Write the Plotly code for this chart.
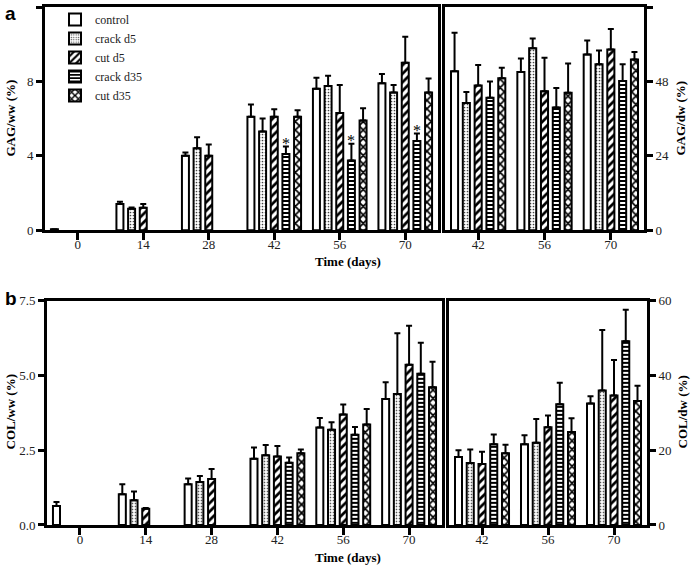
"""GAG et COL (poids humide / poids sec) par groupe et par jour, avec Plotly."""
import plotly.graph_objects as go

# ----------------------------------------------------------------------
# Données (moyenne, écart-type vers le haut)
# ----------------------------------------------------------------------
GROUPES = ["control", "crack d5", "cut d5", "crack d35", "cut d35"]
JOURS_WW = ["0", "14", "28", "42", "56", "70"]
JOURS_DW = ["42", "56", "70"]

GAG_WW = [
    [0.05, 1.4, 4.0, 6.1, 7.6, 7.9],
    [None, 1.15, 4.4, 5.3, 7.75, 7.4],
    [None, 1.2, 4.0, 6.1, 6.3, 9.0],
    [None, None, None, 4.1, 3.75, 4.8],
    [None, None, None, 6.1, 5.9, 7.4],
]
GAG_WW_ERR = [
    [None, 0.12, 0.18, 0.65, 0.6, 0.5],
    [None, 0.07, 0.6, 0.7, 0.55, 0.4],
    [None, 0.2, 0.6, 0.4, 1.5, 1.4],
    [None, None, None, 0.4, 0.9, 0.4],
    [None, None, None, 0.35, 0.65, 0.75],
]
GAG_DW = [
    [51.3, 51.0, 56.7],
    [41.0, 58.7, 53.5],
    [46.7, 44.8, 58.3],
    [42.7, 39.6, 48.1],
    [49.0, 44.3, 55.1],
]
GAG_DW_ERR = [
    [12.4, 4.4, 4.5],
    [3.6, 3.1, 4.5],
    [6.6, 10.8, 6.6],
    [5.3, 6.3, 5.4],
    [3.4, 9.5, 2.4],
]
COL_WW = [
    [0.64, 1.03, 1.36, 2.22, 3.26, 4.22],
    [None, 0.83, 1.44, 2.33, 3.19, 4.38],
    [None, 0.54, 1.54, 2.29, 3.7, 5.36],
    [None, None, None, 2.08, 3.02, 5.06],
    [None, None, None, 2.4, 3.36, 4.61],
]
COL_WW_ERR = [
    [0.13, 0.33, 0.2, 0.37, 0.32, 0.56],
    [None, 0.29, 0.2, 0.35, 0.25, 2.04],
    [None, 0.03, 0.33, 0.35, 0.33, 1.31],
    [None, None, None, 0.18, 0.26, 1.04],
    [None, None, None, 0.13, 0.52, 0.85],
]
COL_DW = [
    [18.2, 21.6, 32.5],
    [16.6, 22.0, 36.0],
    [16.3, 26.2, 34.7],
    [21.6, 32.3, 49.2],
    [19.2, 24.9, 33.2],
]
COL_DW_ERR = [
    [1.8, 2.4, 2.0],
    [3.6, 6.4, 16.2],
    [3.3, 3.1, 9.5],
    [2.6, 5.8, 8.4],
    [2.3, 3.7, 4.1],
]

# différences significatives (crack d35, GAG/ww)
ETOILES_JOURS = ["42", "56", "70"]
ETOILES_GROUPE = 3

# ----------------------------------------------------------------------
# Style
# ----------------------------------------------------------------------
SERIF = "Liberation Serif"
NOIR = "black"
TEXTE = "#222"
BARGAP = 0.11
BARGROUPGAP = 0.4

MOTIFS = [
    dict(shape="", bgcolor="white"),
    dict(shape=".", fgcolor="#444", bgcolor="white", size=3, solidity=0.25),
    dict(shape="/", fgcolor=NOIR, bgcolor="white", size=6, solidity=0.45),
    dict(shape="-", fgcolor=NOIR, bgcolor="white", size=4, solidity=0.5),
    dict(shape="x", fgcolor=NOIR, bgcolor="white", size=6, solidity=0.5),
]

fig = go.Figure()


def _ajouter_barres(jours, valeurs, erreurs, xa, ya, legende=False):
    for i, nom in enumerate(GROUPES):
        err = erreurs[i]
        fig.add_trace(go.Bar(
            x=jours, y=valeurs[i], name=nom,
            xaxis=xa, yaxis=ya,
            legendgroup=nom, showlegend=legende,
            marker=dict(color="white", pattern=MOTIFS[i],
                        line=dict(color=NOIR, width=2)),
            error_y=dict(type="data", array=err, arrayminus=[0] * len(err),
                         symmetric=False, thickness=2, width=3, color=NOIR),
        ))


_ajouter_barres(JOURS_WW, GAG_WW, GAG_WW_ERR, "x", "y", legende=True)
_ajouter_barres(JOURS_DW, GAG_DW, GAG_DW_ERR, "x2", "y2")
_ajouter_barres(JOURS_WW, COL_WW, COL_WW_ERR, "x3", "y3")
_ajouter_barres(JOURS_DW, COL_DW, COL_DW_ERR, "x4", "y4")

# étoiles au-dessus des barres crack d35
slot = (1 - BARGAP) / len(GROUPES)
for j in ETOILES_JOURS:
    k = JOURS_WW.index(j)
    haut = GAG_WW[ETOILES_GROUPE][k] + GAG_WW_ERR[ETOILES_GROUPE][k]
    fig.add_annotation(
        x=k + (ETOILES_GROUPE - 2) * slot, y=haut, xref="x", yref="y",
        text="*", showarrow=False, yanchor="middle", yshift=3,
        font=dict(family=SERIF, size=16, color=NOIR),
    )

# ----------------------------------------------------------------------
# Axes (domaines en pixels -> papier)
# ----------------------------------------------------------------------
W, H = 691, 566
ML, MR, MT, MB = 45, 44, 5, 41
PW, PH = W - ML - MR, H - MT - MB


def px_x(p):
    return (p - ML) / PW


def px_y(p):
    return (H - MB - p) / PH


axe = dict(
    showline=True, linewidth=3, linecolor=NOIR, mirror=True,
    ticks="outside", ticklen=6, tickwidth=3, tickcolor=NOIR,
    showgrid=False, zeroline=False, automargin=False,
    tickfont=dict(family=SERIF, size=13, color=TEXTE),
)
axe_x = dict(axe, type="category", ticklen=7, ticklabelstandoff=-7)

fig.update_layout(
    xaxis=dict(axe_x, domain=[px_x(45), px_x(438)], anchor="y",
               range=[-0.5, 5.5], categoryarray=JOURS_WW),
    yaxis=dict(axe, domain=[px_y(229), px_y(5)], anchor="x",
               range=[0, 12], tickvals=[0, 4, 8, 12]),
    xaxis2=dict(axe_x, domain=[px_x(445), px_x(644)], anchor="y2",
                range=[-0.5, 2.5], categoryarray=JOURS_DW),
    yaxis2=dict(axe, domain=[px_y(229), px_y(5)], anchor="x2", side="right",
                range=[0, 72], tickvals=[0, 24, 48, 72]),
    xaxis3=dict(axe_x, domain=[px_x(47), px_x(442)], anchor="y3",
                range=[-0.5, 5.5], categoryarray=JOURS_WW),
    yaxis3=dict(axe, domain=[px_y(525), px_y(300)], anchor="x3",
                range=[0, 7.5], tickvals=[0, 2.5, 5, 7.5], tickformat=".1f"),
    xaxis4=dict(axe_x, domain=[px_x(449), px_x(647)], anchor="y4",
                range=[-0.5, 2.5], categoryarray=JOURS_DW),
    yaxis4=dict(axe, domain=[px_y(525), px_y(300)], anchor="x4", side="right",
                range=[0, 60], tickvals=[0, 20, 40, 60]),
)

# titres d'axes et lettres de panneaux
LETTRE = dict(family="Liberation Sans", size=19, color=NOIR)
textes = [
    ("<b>a</b>", 3, 12, 0, "left", LETTRE),
    ("<b>b</b>", 3, 298, 0, "left", LETTRE),
    ("<b>GAG/ww (%)</b>", 11, 117, -90, "center", None),
    ("<b>GAG/dw (%)</b>", 681, 117, -90, "center", None),
    ("<b>COL/ww (%)</b>", 10, 412, -90, "center", None),
    ("<b>COL/dw (%)</b>", 682, 412, -90, "center", None),
    ("<b>Time (days)</b>", 348, 260, 0, "center", None),
    ("<b>Time (days)</b>", 348, 558, 0, "center", None),
]
for txt, x, y, ang, xa, police in textes:
    fig.add_annotation(
        x=px_x(x), y=px_y(y), xref="paper", yref="paper", text=txt,
        showarrow=False, textangle=ang, xanchor=xa, yanchor="middle",
        font=police or dict(family=SERIF, size=13, color=NOIR),
    )

fig.update_layout(
    template="none",
    width=W, height=H,
    margin=dict(l=ML, r=MR, t=MT, b=MB),
    paper_bgcolor="white", plot_bgcolor="white",
    font=dict(family=SERIF, size=13, color=TEXTE),
    barmode="group", bargap=BARGAP, bargroupgap=BARGROUPGAP,
    legend=dict(x=px_x(55), y=px_y(3), xanchor="left", yanchor="top",
                bgcolor="rgba(0,0,0,0)", borderwidth=0,
                font=dict(family=SERIF, size=12, color=TEXTE),
                tracegroupgap=0, itemsizing="constant"),
    showlegend=True,
)

# la page HTML a une marge de 8 px par défaut : on la supprime
fig.write_html("out.html", config={"displayModeBar": False},
               post_script="document.body.style.margin='0';")
